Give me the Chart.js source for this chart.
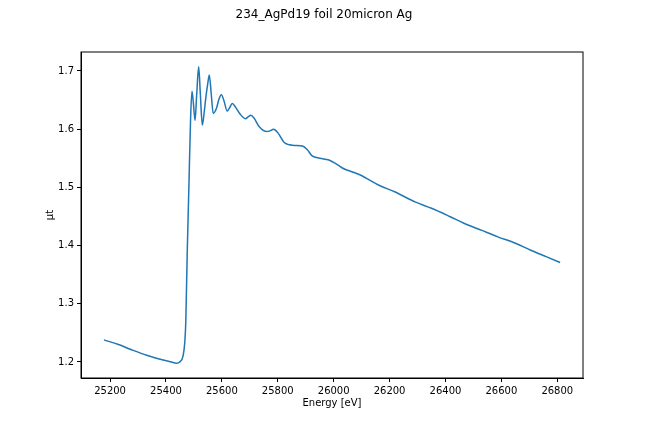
<!DOCTYPE html>
<html>
<head>
<meta charset="utf-8">
<script src="https://cdn.jsdelivr.net/npm/chart.js@4"></script>
<style>
  html, body { margin: 0; padding: 0; background: #fff; }
  canvas { display: block; }
</style>
</head>
<body>
<canvas id="xasChart" width="648" height="432"></canvas>
<script>
// Values
const energy = [25178, 25230, 25272, 25331, 25390, 25420, 25437, 25450, 25461, 25467,
    25471, 25476, 25482, 25488, 25493, 25498, 25504, 25510, 25517, 25523,
    25530, 25537, 25543, 25550, 25555, 25562, 25569, 25580, 25590, 25598,
    25608, 25619, 25628, 25637, 25650, 25665, 25684, 25694, 25704, 25715,
    25734, 25758, 25772, 25785, 25800, 25823, 25858, 25888, 25905, 25923,
    25950, 25983, 26010, 26036, 26070, 26101, 26130, 26160, 26220, 26291,
    26350, 26415, 26468, 26530, 26587, 26650, 26705, 26760, 26810]
const mut = [1.238, 1.230, 1.222, 1.2115, 1.2034, 1.2, 1.198, 1.2005, 1.21, 1.232,
    1.27, 1.387, 1.501, 1.617, 1.665, 1.645, 1.615, 1.66, 1.707, 1.66,
    1.607, 1.63, 1.656, 1.68, 1.693, 1.66, 1.627, 1.635, 1.652, 1.659,
    1.648, 1.631, 1.637, 1.644, 1.637, 1.626, 1.618, 1.621, 1.624, 1.619,
    1.604, 1.596, 1.597, 1.600, 1.594, 1.577, 1.572, 1.571, 1.565, 1.554,
    1.550, 1.547, 1.540, 1.532, 1.526, 1.520, 1.512, 1.504, 1.492, 1.475,
    1.464, 1.450, 1.438, 1.426, 1.415, 1.404, 1.392, 1.381, 1.371]
const xTicks = [25200, 25400, 25600, 25800, 26000, 26200, 26400, 26600, 26800]
const yTicks = [1.2, 1.3, 1.4, 1.5, 1.6, 1.7]

const font = "'DejaVu Sans', sans-serif"

// suptitle + the axes frame on all four sides
const framePlugin = {
    id: "frame",
    afterDraw(chart) {
        const { ctx, chartArea: a } = chart
        ctx.save()
        ctx.strokeStyle = "#000"
        ctx.lineWidth = 1
        ctx.strokeRect(a.left, a.top, a.right - a.left, a.bottom - a.top)
        ctx.fillStyle = "#000"
        ctx.font = "12px " + font
        ctx.textAlign = "center"
        ctx.textBaseline = "middle"
        ctx.fillText("234_AgPd19 foil 20micron Ag", 324, 15)
        ctx.restore()
    }
}

new Chart(document.getElementById("xasChart").getContext("2d"), {
    type: "line",
    data: {
        datasets: [{
            data: energy.map((e, i) => ({ x: e, y: mut[i] })),
            borderColor: "#1f77b4",
            borderWidth: 1.5,
            pointRadius: 0,
            cubicInterpolationMode: "monotone",
            fill: false
        }]
    },
    options: {
        responsive: false,
        animation: false,
        devicePixelRatio: 1,
        layout: { padding: { left: 0, right: 65, top: 52, bottom: 0 } },
        plugins: { legend: { display: false }, tooltip: { enabled: false }, title: { display: false } },
        scales: {
            x: {
                type: "linear",
                min: 25096,
                max: 26892,
                afterBuildTicks: (s) => { s.ticks = xTicks.map(v => ({ value: v })) },
                afterFit: (s) => { s.height = 54 },
                grid: { drawOnChartArea: false, tickLength: 4, color: "#000" },
                border: { color: "#000" },
                ticks: { color: "#000", padding: 3, maxRotation: 0, font: { family: font, size: 10 }, callback: v => String(v) },
                title: { display: true, text: "Energy [eV]", color: "#000", font: { family: font, size: 10 }, padding: { top: 0, bottom: 23 } }
            },
            y: {
                min: 1.1725,
                max: 1.7325,
                afterBuildTicks: (s) => { s.ticks = yTicks.map(v => ({ value: v })) },
                afterFit: (s) => { s.width = 81 },
                grid: { drawOnChartArea: false, tickLength: 4, color: "#000" },
                border: { color: "#000" },
                ticks: { color: "#000", padding: 3, font: { family: font, size: 10 }, callback: v => v.toFixed(1) },
                title: { display: true, text: "μt", color: "#000", font: { family: font, size: 10 }, padding: { top: 44, bottom: 0 } }
            }
        }
    },
    plugins: [framePlugin]
})
</script>
</body>
</html>
